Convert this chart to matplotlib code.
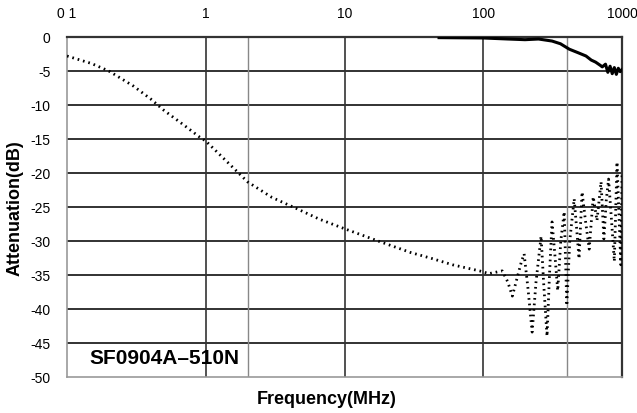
import matplotlib
matplotlib.use('Agg')
import matplotlib.pyplot as plt

plt.rcParams['font.family'] = ['Liberation Sans', 'DejaVu Sans']

# dotted trace (frequency in MHz, attenuation in dB)
dot_freq = [0.1, 0.15, 0.2, 0.3, 0.4, 0.5, 0.7, 0.9, 1.0, 1.5, 2.0, 3.0, 4.7, 6.6,
            10, 18, 30, 43, 60, 94, 110, 137,
            150, 162, 175, 188, 197, 210, 225, 240, 261, 272, 288, 300, 313, 328,
            344, 362, 383, 392, 400, 420, 452, 470, 490, 515, 545, 580, 620, 660,
            706, 740, 770, 800, 840, 880, 920, 950, 980, 1000]
dot_db = [-2.8, -3.9, -5.0, -7.2, -9.1, -10.8, -13.0, -14.7, -15.3, -18.8, -21.3, -23.6, -25.4, -26.8,
          -28.2, -30.1, -31.7, -32.6, -33.5, -34.4, -34.8, -34.4,
          -36.0, -38.1, -35.5, -33.1, -31.9, -37.0, -43.4, -36.0, -29.3, -36.0, -44.0, -35.0, -27.2, -32.0,
          -37.3, -30.0, -25.7, -33.0, -39.5, -30.0, -23.8, -28.0, -32.6, -22.8, -27.0, -31.2, -23.5, -27.0,
          -21.3, -29.7, -24.0, -20.9, -27.0, -33.0, -18.4, -26.0, -33.5, -20.0]

# solid trace
sol_freq = [48, 100, 150, 200, 250, 313, 360, 417, 480, 550, 600, 645, 700, 720,
            760, 790, 820, 850, 880, 910, 940, 970, 1000]
sol_db = [-0.1, -0.15, -0.3, -0.4, -0.3, -0.6, -1.0, -1.8, -2.3, -2.8, -3.4, -3.7, -4.2, -4.4,
          -4.0, -5.2, -4.3, -5.4, -4.5, -5.5, -4.6, -5.1, -4.8]

x_ticks = [0.1, 1, 10, 100, 1000]
x_labels = ['0 1', '1', '10', '100', '1000']
y_ticks = [0, -5, -10, -15, -20, -25, -30, -35, -40, -45, -50]
dark_vlines = [1, 10, 100]
light_vlines = [2, 400]

fig = plt.figure(figsize=(6.37, 4.14), dpi=100)
ax = fig.add_axes([0.1052, 0.0870, 0.8713, 0.8213])

ax.set_xscale('log')
ax.set_xlim(0.1, 1000)
ax.set_ylim(-50, 0)

# grid
for y in y_ticks[1:-1]:
    ax.axhline(y, color='#222222', lw=1.3, zorder=1)
for x in dark_vlines:
    ax.axvline(x, color='#333333', lw=1.2, zorder=1)
for x in light_vlines:
    ax.axvline(x, color='#888888', lw=1.0, zorder=1)

ax.plot(dot_freq, dot_db, color='black', lw=2.0, linestyle=(0, (0.6, 1.4)), zorder=3)
ax.plot(sol_freq, sol_db, color='black', lw=2.2, zorder=3)

ax.xaxis.tick_top()
ax.set_xticks(x_ticks)
ax.set_xticklabels(x_labels)
ax.xaxis.set_minor_locator(plt.NullLocator())
ax.set_yticks(y_ticks)
ax.set_yticklabels([str(v) for v in y_ticks])
ax.tick_params(axis='both', length=0, labelsize=10, pad=12)

for side in ['left', 'bottom']:
    ax.spines[side].set_color('#999999')
    ax.spines[side].set_linewidth(1.2)
for side in ['top', 'right']:
    ax.spines[side].set_color('#333333')
    ax.spines[side].set_linewidth(1.6)

ax.set_xlabel('Frequency(MHz)', fontsize=13, fontweight='bold')
ax.xaxis.set_label_position('bottom')
ax.xaxis.set_label_coords(0.467, -0.038)
ax.set_ylabel('Attenuation(dB)', fontsize=13, fontweight='bold')
ax.yaxis.set_label_coords(-0.078, 0.5)

ax.text(0.04, 0.056, 'SF0904A\u2013510N', transform=ax.transAxes,
        fontsize=15, fontweight='bold', va='center', ha='left')

fig.savefig('out.png', dpi=100)
